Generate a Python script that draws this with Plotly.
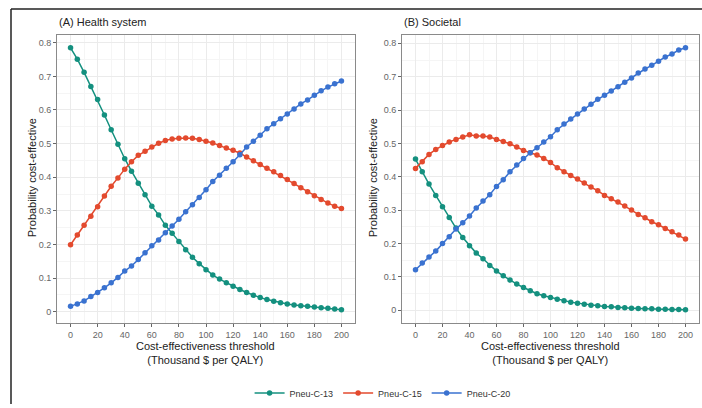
import plotly.graph_objects as go

thresholds = list(range(0, 201, 5))

# Panel A: Health system perspective
hs_pcv13 = [0.785, 0.751, 0.712, 0.670, 0.631, 0.585, 0.541, 0.498, 0.455, 0.418,
            0.382, 0.348, 0.314, 0.288, 0.257, 0.233, 0.209, 0.184, 0.162, 0.143,
            0.125, 0.109, 0.097, 0.086, 0.076, 0.066, 0.057, 0.049, 0.042, 0.036,
            0.031, 0.027, 0.023, 0.020, 0.018, 0.016, 0.014, 0.012, 0.010, 0.008, 0.006]
hs_pcv15 = [0.199, 0.228, 0.257, 0.284, 0.312, 0.344, 0.373, 0.398, 0.424, 0.446,
            0.465, 0.477, 0.490, 0.501, 0.509, 0.514, 0.516, 0.517, 0.516, 0.512,
            0.507, 0.502, 0.494, 0.487, 0.480, 0.472, 0.460, 0.449, 0.438, 0.427,
            0.416, 0.405, 0.393, 0.381, 0.369, 0.357, 0.345, 0.334, 0.323, 0.314, 0.307]
hs_pcv20 = [0.016, 0.023, 0.032, 0.045, 0.057, 0.071, 0.086, 0.102, 0.121, 0.136,
            0.155, 0.175, 0.196, 0.213, 0.235, 0.255, 0.275, 0.297, 0.318, 0.340,
            0.363, 0.387, 0.406, 0.427, 0.446, 0.467, 0.490, 0.507, 0.525, 0.544,
            0.559, 0.574, 0.588, 0.603, 0.618, 0.630, 0.644, 0.657, 0.668, 0.678, 0.686]

# Panel B: Societal perspective
so_pcv13 = [0.453, 0.415, 0.378, 0.344, 0.310, 0.278, 0.246, 0.218, 0.193, 0.171,
            0.154, 0.134, 0.117, 0.103, 0.090, 0.078, 0.068, 0.058, 0.049, 0.043,
            0.038, 0.033, 0.028, 0.024, 0.021, 0.018, 0.015, 0.013, 0.011, 0.010,
            0.008, 0.007, 0.006, 0.005, 0.004, 0.004, 0.003, 0.003, 0.002, 0.002, 0.001]
so_pcv15 = [0.425, 0.445, 0.467, 0.482, 0.494, 0.504, 0.512, 0.519, 0.526, 0.522,
            0.522, 0.519, 0.512, 0.506, 0.499, 0.489, 0.479, 0.472, 0.465, 0.455,
            0.443, 0.427, 0.415, 0.404, 0.393, 0.381, 0.369, 0.358, 0.344, 0.334,
            0.324, 0.312, 0.300, 0.287, 0.277, 0.265, 0.256, 0.245, 0.235, 0.225, 0.213]
so_pcv20 = [0.121, 0.141, 0.159, 0.177, 0.200, 0.220, 0.243, 0.262, 0.282, 0.306,
            0.327, 0.346, 0.371, 0.391, 0.415, 0.435, 0.455, 0.472, 0.487, 0.504,
            0.520, 0.541, 0.558, 0.573, 0.588, 0.603, 0.617, 0.632, 0.644, 0.657,
            0.670, 0.683, 0.696, 0.711, 0.723, 0.734, 0.746, 0.759, 0.768, 0.780, 0.787]

names = ["Pneu-C-13", "Pneu-C-15", "Pneu-C-20"]
colors = ["#14907F", "#E34A2E", "#3A72D0"]
x_ticks = list(range(0, 201, 20))
y_ticks = [0, 0.1, 0.2, 0.3, 0.4, 0.5, 0.6, 0.7, 0.8]

W, H = 702, 408
FONT = "Liberation Sans, Arial, sans-serif"

fig = go.Figure()
panels = [("x", "y", [hs_pcv13, hs_pcv15, hs_pcv20]),
          ("x2", "y2", [so_pcv13, so_pcv15, so_pcv20])]
for pi, (xa, ya, series) in enumerate(panels):
    for name, col, vals in zip(names, colors, series):
        fig.add_trace(go.Scatter(
            x=thresholds, y=vals, xaxis=xa, yaxis=ya, name=name,
            mode="lines+markers", line=dict(color=col, width=1.5),
            marker=dict(color=col, size=5.5), showlegend=(pi == 0)))

def xax(domain):
    return dict(domain=domain, range=[-10, 210], tickvals=x_ticks,
                ticks="outside", ticklen=3, tickcolor="#666", tickwidth=1,
                tickfont=dict(size=9, color="#666", family=FONT),
                showgrid=True, gridcolor="#EBEBEB", gridwidth=1,
                minor=dict(dtick=10, tick0=0, showgrid=True, gridcolor="#F5F5F5", gridwidth=0.7),
                zeroline=False, showline=True, linecolor="#8A8A8A", linewidth=1, mirror=True)

def yax(domain, rng, anchor):
    return dict(domain=domain, range=rng, tickvals=y_ticks, anchor=anchor,
                ticks="outside", ticklen=3, tickcolor="#666", tickwidth=1,
                tickfont=dict(size=9, color="#666", family=FONT),
                showgrid=True, gridcolor="#EBEBEB", gridwidth=1,
                minor=dict(dtick=0.05, tick0=0, showgrid=True, gridcolor="#F5F5F5", gridwidth=0.7),
                zeroline=False, showline=True, linecolor="#8A8A8A", linewidth=1, mirror=True)

ydom = [1 - 326 / H, 1 - 35 / H]
fig.update_layout(
    width=W, height=H, margin=dict(l=0, r=0, t=0, b=0),
    paper_bgcolor="white", plot_bgcolor="white",
    font=dict(family=FONT, color="#222"),
    xaxis=xax([57 / W, 355 / W]) | dict(anchor="y"),
    yaxis=yax(ydom, [-0.033, 0.824], "x"),
    xaxis2=xax([402 / W, 699 / W]) | dict(anchor="y2"),
    yaxis2=yax(ydom, [-0.038, 0.826], "x2"),
    legend=dict(orientation="h", x=0.545, xanchor="center", y=1 - 397 / H, yanchor="middle",
                font=dict(size=9, color="#333", family=FONT), bgcolor="rgba(0,0,0,0)",
                itemwidth=30, tracegroupgap=0),
    showlegend=True,
)

anns = []
for title, xl, xc in [("(A) Health system", 57, 206), ("(B) Societal", 402, 550)]:
    anns.append(dict(text=title, x=xl / W, y=1 - 22 / H, xref="paper", yref="paper",
                     xanchor="left", yanchor="middle", showarrow=False,
                     font=dict(size=11, color="#222", family=FONT)))
    anns.append(dict(text="Cost-effectiveness threshold<br>(Thousand $ per QALY)",
                     x=xc / W, y=1 - 341 / H, xref="paper", yref="paper",
                     xanchor="center", yanchor="top", showarrow=False,
                     font=dict(size=11, color="#222", family=FONT)))
for xp in [32, 373]:
    anns.append(dict(text="Probability cost-effective", x=xp / W, y=1 - 180 / H,
                     xref="paper", yref="paper", textangle=-90,
                     xanchor="center", yanchor="middle", showarrow=False,
                     font=dict(size=11, color="#222", family=FONT)))
fig.update_layout(annotations=anns)

fig.add_shape(type="line", xref="paper", yref="paper", x0=11 / W, x1=1, y0=1 - 9 / H, y1=1 - 9 / H,
              line=dict(color="#222", width=1.5))
fig.add_shape(type="line", xref="paper", yref="paper", x0=11 / W, x1=11 / W, y0=0, y1=1 - 9 / H,
              line=dict(color="#222", width=1.5))

fig.write_html("out.html")
